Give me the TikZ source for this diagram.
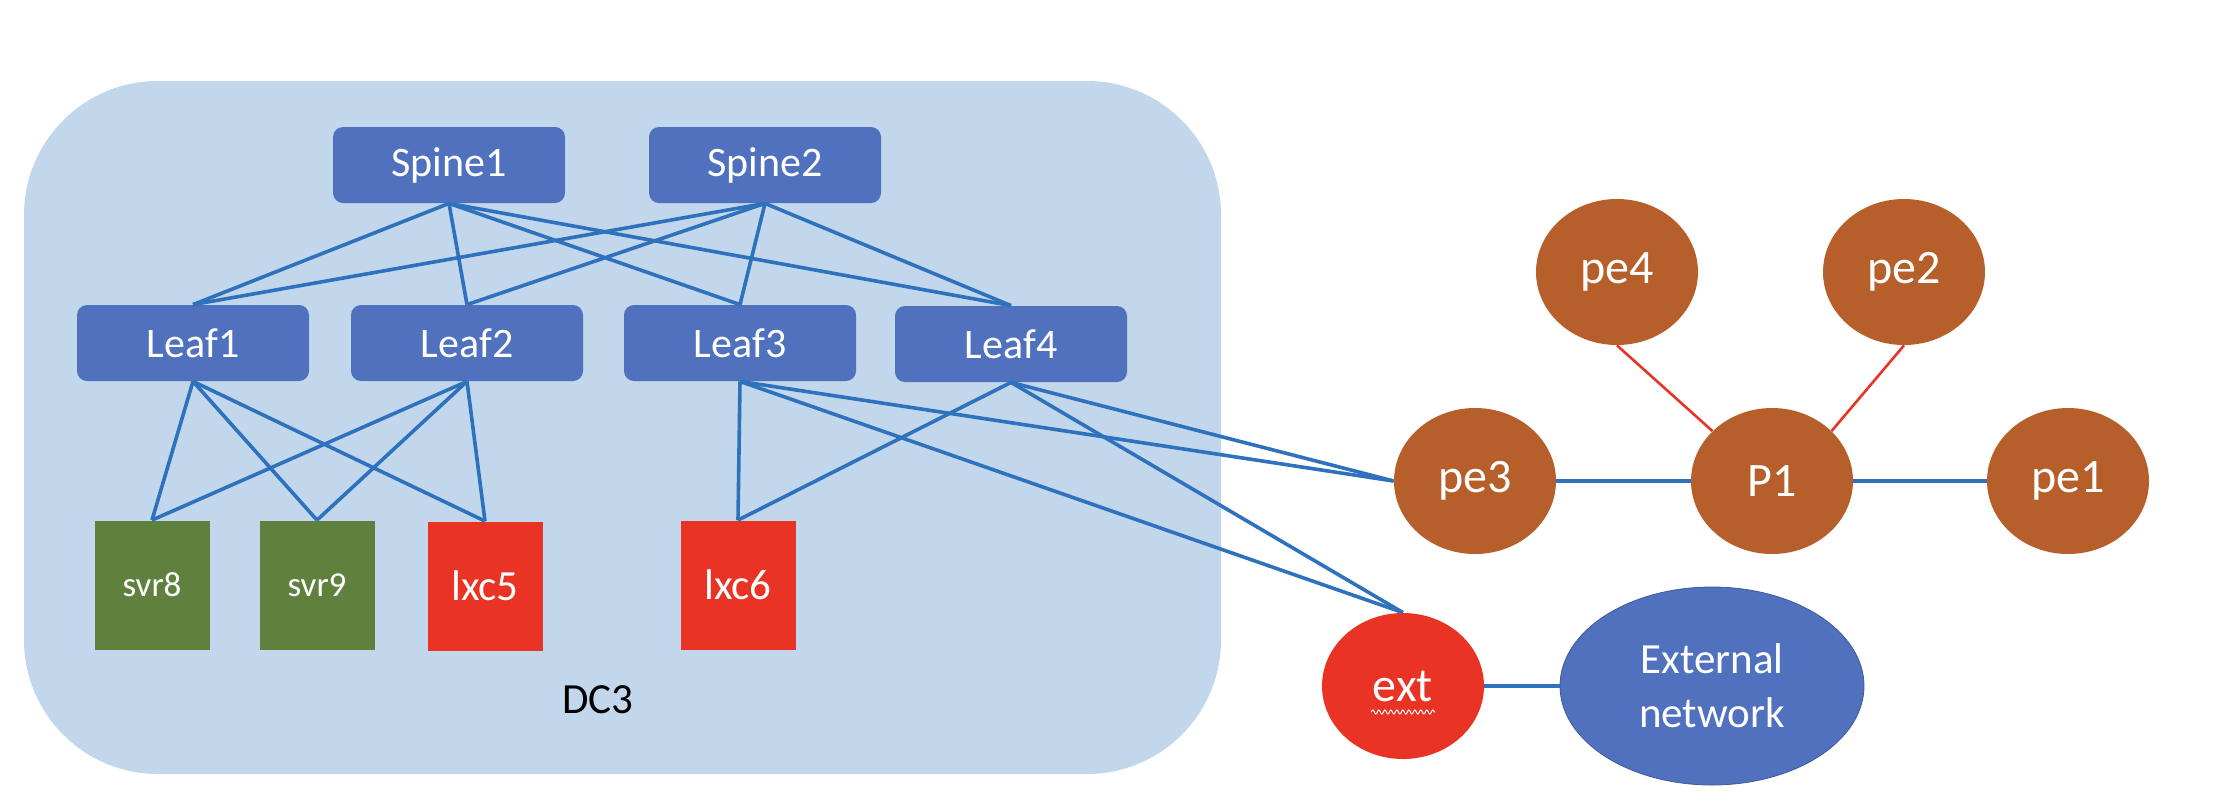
\documentclass[tikz,border=0pt]{standalone}
\usepackage{fontspec}
\setmainfont{Carlito}
\usepackage{tikz}
\usetikzlibrary{shapes,positioning,decorations.pathmorphing}
\definecolor{boxblue}{RGB}{80,113,190}
\definecolor{zoneblue}{RGB}{194,215,235}
\definecolor{linkblue}{RGB}{46,114,189}
\definecolor{srvgreen}{RGB}{96,129,62}
\definecolor{lxcred}{RGB}{233,51,36}
\definecolor{pebrown}{RGB}{182,95,43}
\tikzstyle{link}   =[draw=linkblue, line width=1.8pt]
\tikzstyle{redlink}=[draw=lxcred, line width=1.3pt]
\tikzstyle{switch} =[rectangle, rounded corners=5pt, fill=boxblue,
                     text=white, minimum width=116pt, minimum height=38pt,
                     inner sep=0pt, font=\fontsize{21}{25}\selectfont]
\tikzstyle{host}   =[rectangle, text=white, minimum width=57.5pt,
                     minimum height=64.5pt, inner sep=0pt]
\tikzstyle{router} =[ellipse, fill=pebrown, text=white,
                     minimum width=81pt, minimum height=73pt,
                     inner sep=0pt, font=\fontsize{24}{28}\selectfont]

\begin{document}
\begin{tikzpicture}[x=0.5pt,y=-0.5pt]
    \useasboundingbox (0,0) rectangle (2218,805);

    % DC3 zone
    \node (dc3) [rectangle, fill=zoneblue, rounded corners=67pt,
                 minimum width=598.5pt, minimum height=346.5pt]
                 at (622.5,427.5) {};
    \node (dc3label) at (598,700) {\fontsize{21.5}{25}\selectfont DC3};

    % fabric
    \node (spine1) [switch] at (449,165) {Spine1};
    \node (spine2) [switch] at (765,165) {Spine2};
    \node (leaf1) [switch] at (193,343) {Leaf1};
    \node (leaf2) [switch] at (467,343) {Leaf2};
    \node (leaf3) [switch] at (740,343) {Leaf3};
    \node (leaf4) [switch] at (1011,344) {Leaf4};

    \node (svr8) [host, fill=srvgreen, font=\fontsize{17.5}{20}\selectfont] at (152,585) {svr8};
    \node (svr9) [host, fill=srvgreen, font=\fontsize{17.5}{20}\selectfont] at (317,585) {svr9};
    \node (lxc5) [host, fill=lxcred, font=\fontsize{21.5}{25}\selectfont] at (485,586) {lxc5};
    \node (lxc6) [host, fill=lxcred, font=\fontsize{21.5}{25}\selectfont] at (738,585) {lxc6};

    % provider side
    \node (pe4) [router] at (1617,272) {pe4};
    \node (pe2) [router] at (1904,272) {pe2};
    \node (pe3) [router] at (1475,481) {pe3};
    \node (p1)  [router] at (1772,481) {P1};
    \node (pe1) [router] at (2068,481) {pe1};
    \node (ext) [router, fill=lxcred] at (1403,686) {ext};
    \draw [white, line width=0.5pt, decorate,
           decoration={snake, amplitude=1pt, segment length=3pt}]
           ([xshift=-16pt,yshift=-13pt]ext.center) -- ([xshift=16pt,yshift=-13pt]ext.center);
    \node (extnet) [ellipse, fill=boxblue, draw=boxblue!80!black, line width=0.4pt,
                    text=white, align=center, minimum width=152pt,
                    minimum height=99pt, inner sep=0pt,
                    font=\fontsize{21.5}{27}\selectfont]
                    at (1712,686) {External\\network};

    \foreach \i/\j in {spine1/leaf1,spine1/leaf2,spine1/leaf3,spine1/leaf4,
                       spine2/leaf1,spine2/leaf2,spine2/leaf3,spine2/leaf4}
        \draw [link] (\i.south) -- (\j.north);

    \foreach \i/\j in {leaf1/svr8,leaf1/svr9,leaf1/lxc5,
                       leaf2/svr8,leaf2/svr9,leaf2/lxc5,
                       leaf3/lxc6,leaf4/lxc6}
        \draw [link] (\i.south) -- (\j.north);

    \foreach \i in {leaf3,leaf4}{
        \draw [link] (\i.south) -- (pe3.west);
        \draw [link] (\i.south) -- (ext.north);
    }

    \foreach \i/\j in {pe3/p1,p1/pe1,ext/extnet}
        \draw [link] (\i) -- (\j);

    \draw [redlink] (pe4.south) -- (p1.140);
    \draw [redlink] (pe2.south) -- (p1.40);

\end{tikzpicture}
\end{document}
